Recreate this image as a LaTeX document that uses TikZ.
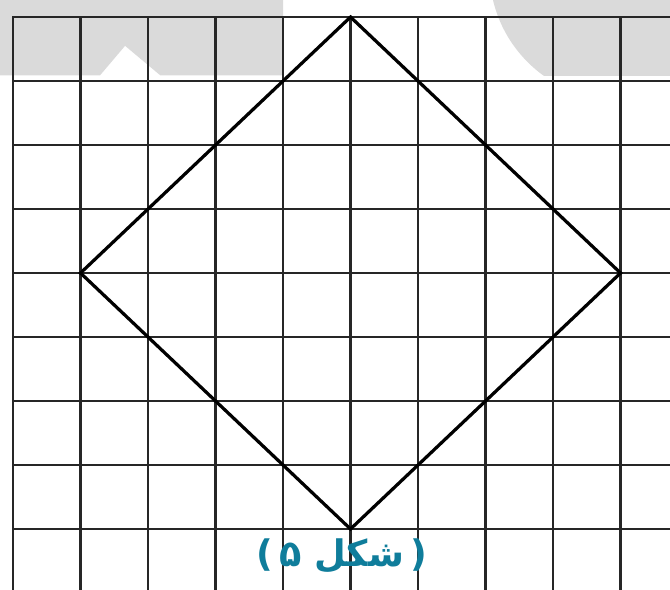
\documentclass[tikz,border=0pt]{standalone}
\usepackage{fontspec}
\newfontfamily\arabicfont[Script=Arabic]{DejaVu Sans}
\newfontfamily\parenfont{DejaVu Sans}
\TeXXeTstate=1
\usetikzlibrary{positioning}
\definecolor{captionteal}{RGB}{15,125,155}
\definecolor{markgray}{RGB}{218,218,218}
\tikzset{
  gridline/.style={line width=1.8pt,black!85,line cap=rect},
  squareline/.style={line width=2.3pt,black},
  figlabel/.style={text=captionteal,font=\bfseries\fontsize{26}{30}\selectfont,inner sep=1pt}
}

\begin{document}
\begin{tikzpicture}[x=1.6875cm,y=1.6cm]
\useasboundingbox (-0.193,-0.9375) rectangle (9.733,8.266);
% faint mark behind the top rows
\begin{scope}
\clip (-0.193,7.09) rectangle (9.733,8.266);
\fill[markgray] (-0.193,7.09) -- (1.29,7.09) -- (1.66,7.55) -- (2.18,7.09) -- (4.0,7.09)
  -- (4.0,8.266) -- (-0.193,8.266) -- cycle;
\fill[markgray] (8.99,8.73) ellipse (1.93 and 2.03);
\end{scope}
% grid
\foreach \i in {0,...,9} \draw[gridline] (\i,-0.9375) -- (\i,8);
\foreach \j in {0,...,8} \draw[gridline] (0,\j) -- (9.733,\j);
% square standing on a corner
\coordinate (top) at (5,8);
\coordinate (left) at (1,4);
\coordinate (bottom) at (5,0);
\coordinate (right) at (9,4);
\draw[squareline] (top) -- (left) -- (bottom) -- (right) -- cycle;
\node[figlabel] (fig) at (4.87,-0.42)
  {{\parenfont(}\,{\arabicfont\beginR شکل ۵\endR}\,{\parenfont)}};
\end{tikzpicture}
\end{document}
